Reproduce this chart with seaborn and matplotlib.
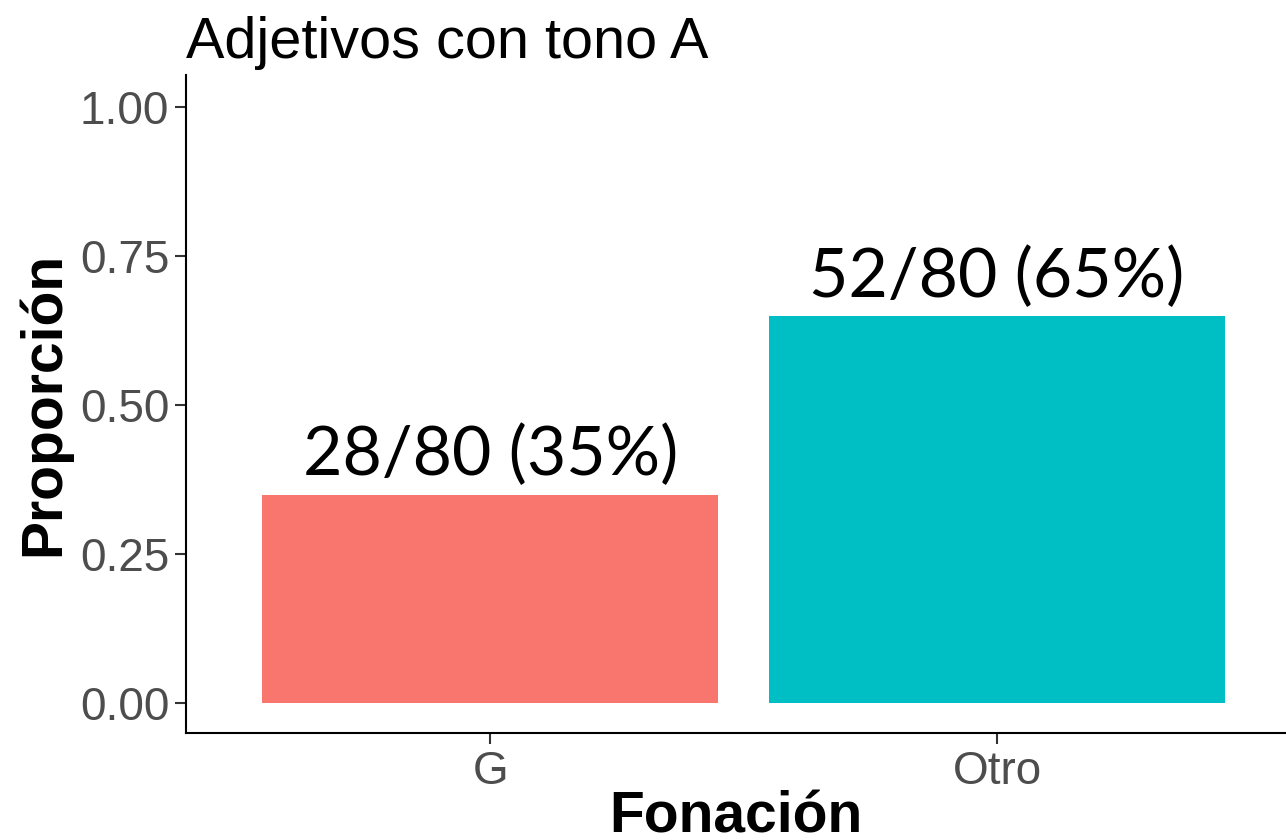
import matplotlib
matplotlib.use("Agg")
import matplotlib.pyplot as plt
import seaborn as sns
import pandas as pd

categories = ["G", "Otro"]
proportions = [0.35, 0.65]
labels = ["28/80 (35%)", "52/80 (65%)"]
colors = ["#F8766D", "#00BFC4"]
yticks = [0.00, 0.25, 0.50, 0.75, 1.00]

df = pd.DataFrame({"Fonación": categories, "Proporción": proportions})

sns.set_theme(style="white")
plt.rcParams['font.family'] = ['Liberation Sans', 'DejaVu Sans']

fig = plt.figure(figsize=(12.86, 8.4), dpi=100)
ax = fig.add_axes([186/1286, 1 - 733/840, 1 - 186/1286, (733 - 75)/840])

sns.barplot(data=df, x="Fonación", y="Proporción", hue="Fonación",
            palette=colors, width=0.9, saturation=1, legend=False, ax=ax)
for p in ax.patches:
    p.set_edgecolor("none")

for i, (v, t) in enumerate(zip(proportions, labels)):
    ax.text(i, v + 0.012, t, ha="center", va="bottom", fontsize=49,
            family=["Lato", "DejaVu Sans"], color="black")

ax.set_xlim(-0.6, 1.57)
ax.set_ylim(-0.05, 1.054)
ax.set_yticks(yticks)
ax.set_yticklabels([f"{t:.2f}" for t in yticks])
ax.tick_params(axis="both", labelsize=33, labelcolor="#4D4D4D", color="#333333",
               length=8, width=1.5, left=True, bottom=True, pad=4)
for s in ["top", "right"]:
    ax.spines[s].set_visible(False)
for s in ["left", "bottom"]:
    ax.spines[s].set_color("black")
    ax.spines[s].set_linewidth(1.5)

ax.set_xlabel("Fonación", fontsize=41, fontweight="bold", color="black", labelpad=-2)
ax.set_ylabel("Proporción", fontsize=41, fontweight="bold", color="black", labelpad=6)
ax.set_title("Adjetivos con tono A", fontsize=41.5, loc="left", x=0.0, pad=12, color="black")

fig.savefig("out.png", dpi=100)
